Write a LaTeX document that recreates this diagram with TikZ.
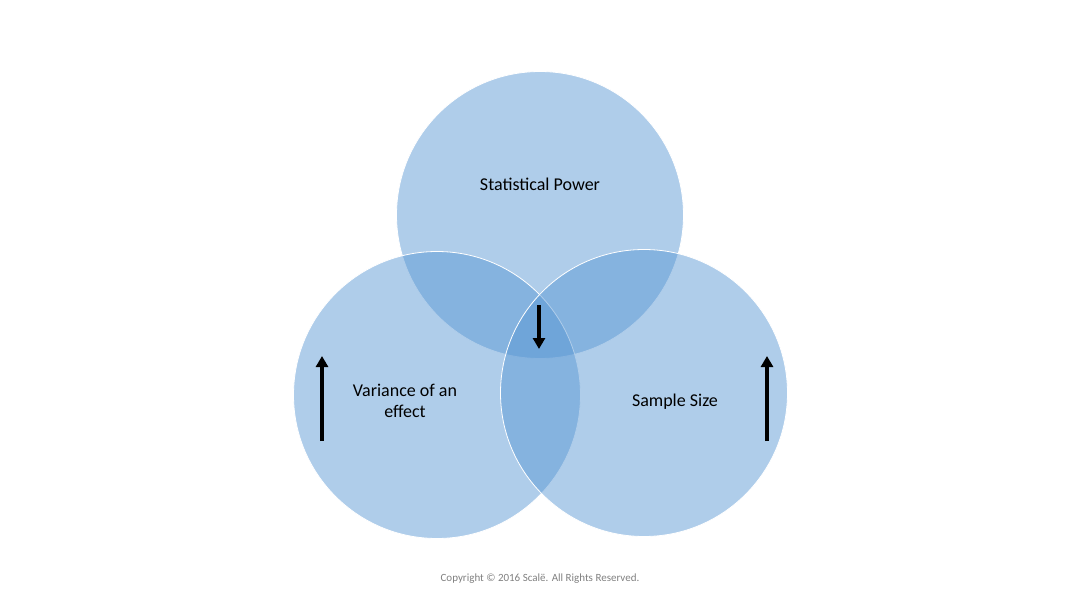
\documentclass[tikz,border=0pt]{standalone}
\usepackage{fontspec}
\setmainfont{Carlito}
\usepackage{xcolor}
\usetikzlibrary{arrows.meta,positioning}
\definecolor{vennblue}{RGB}{87,150,211}

\begin{document}
\begin{tikzpicture}[
    x=1pt, y=-1pt,
    set/.style={circle, draw=white, line width=0.8pt, fill=vennblue, fill opacity=0.475, minimum size=287pt},
    label/.style={font=\fontsize{18}{21}\selectfont, align=center, text=black},
    bigarrow/.style={-{Triangle[length=11pt,width=12pt]}, line width=3.5pt, black}
]
    \useasboundingbox (0,0) rectangle (1080,607);
    \node[set] (power) at (540,215) {};
    \node[set] (variance) at (437,395) {};
    \node[set] (sample) at (644,393) {};

    \node[label] (powertext) at (540,184) {Statistical Power};
    \node[label] (variancetext) at (405,401) {Variance of an\\effect};
    \node[label] (sampletext) at (675,402) {Sample Size};

    \coordinate (varlow) at (322,441);
    \coordinate (varhigh) at (322,356);
    \coordinate (samplow) at (767,441);
    \coordinate (samphigh) at (767,356);
    \coordinate (powhigh) at (539,305);
    \coordinate (powlow) at (539,349);

    \draw[bigarrow] (varlow) -- (varhigh);
    \draw[bigarrow] (samplow) -- (samphigh);
    \draw[bigarrow] (powhigh) -- (powlow);

    \node[font=\fontsize{11}{13}\selectfont, text=gray] (copyright) at (540,579) {Copyright © 2016 Scalë. All Rights Reserved.};
\end{tikzpicture}
\end{document}
